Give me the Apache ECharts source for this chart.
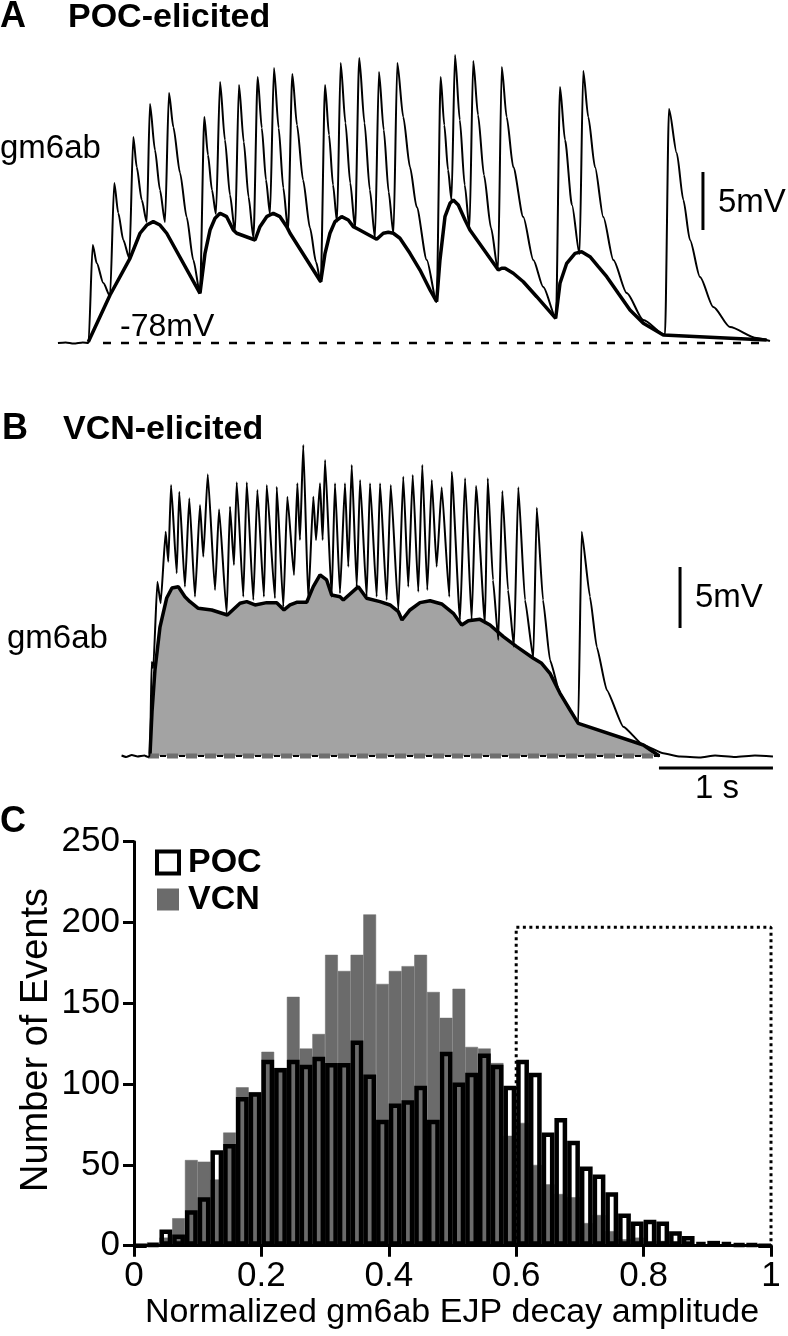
<!DOCTYPE html>
<html><head><meta charset="utf-8">
<script src="https://cdn.jsdelivr.net/npm/echarts@6/dist/echarts.min.js"></script>
<style>html,body{margin:0;padding:0;background:#fff}#c{width:788px;height:1336px}</style>
</head><body><div id="c"></div>
<script>
// ---------- Panel C histogram (bin width 0.02) ----------
const binLabels = ['0.00','0.02','0.04','0.06','0.08','0.10','0.12','0.14','0.16','0.18',
 '0.20','0.22','0.24','0.26','0.28','0.30','0.32','0.34','0.36','0.38',
 '0.40','0.42','0.44','0.46','0.48','0.50','0.52','0.54','0.56','0.58',
 '0.60','0.62','0.64','0.66','0.68','0.70','0.72','0.74','0.76','0.78',
 '0.80','0.82','0.84','0.86','0.88','0.90','0.92','0.94','0.96','0.98'];
const pocCounts = [0,1,10,7,22,30,59,63,92,95, 115,110,115,112,117,113,113,127,106,78,
 88,90,99,78,120,101,107,119,112,99, 115,107,70,79,65,49,44,33,20,15,
 16,15,9,6,2,3,2,1,1,0];
const vcnCounts = [1,2,5,17,53,52,41,70,98,95, 120,110,154,122,131,180,170,180,205,162,
 170,173,180,157,141,159,123,122,113,68, 76,50,38,32,30,14,19,9,4,5,
 2,3,1,1,0,0,0,0,0,0];
const pocBox = [[0.6,0],[0.6,197],[1.0,197],[1.0,0]];

// ---------- Panel A (POC-elicited): time s, mV above -78 mV ----------
const traceA = [
[-0.018,0],[0.05,0.05],[0.12,-0.05],[0.20,0.04],[0.250,0],
[0.287,8.45],[0.322,6.90],[0.380,5.17],[0.439,4.05],
[0.476,13.79],[0.511,11.21],[0.555,8.88],[0.608,7.33],
[0.643,17.76],[0.673,15.17],[0.717,12.33],[0.761,10.43],
[0.789,20.60],[0.833,16.64],[0.877,13.19],[0.921,10.43],
[0.956,21.55],[0.994,18.62],[1.053,14.66],[1.111,10.86],[1.169,7.16],[1.228,4.31],
[1.266,19.48],[1.298,16.21],[1.333,13.19],[1.368,11.12],
[1.404,22.50],[1.447,17.50],[1.491,12.76],[1.535,9.57],
[1.570,22.24],[1.612,17.33],[1.654,12.59],[1.697,9.05],
[1.734,22.93],[1.770,18.53],[1.807,14.05],[1.842,11.12],
[1.877,23.71],[1.918,18.53],[1.959,13.36],[2.000,9.74],
[2.038,23.19],[2.079,18.79],[2.132,14.05],[2.193,9.91],[2.246,6.98],[2.287,5.26],
[2.325,22.24],[2.360,17.93],[2.395,13.62],[2.430,10.43],
[2.462,24.14],[2.504,18.97],[2.546,13.79],[2.588,9.91],
[2.625,24.57],[2.671,18.97],[2.718,13.19],[2.763,9.05],
[2.798,23.36],[2.840,18.36],[2.883,13.02],[2.925,9.40],
[2.959,24.14],[3.011,19.48],[3.070,15.17],[3.129,11.72],[3.217,7.16],[3.304,3.53],
[3.339,22.93],[3.371,18.79],[3.404,14.91],[3.434,12.33],
[3.465,24.83],[3.507,19.22],[3.550,13.62],[3.592,9.91],
[3.625,24.31],[3.667,19.66],[3.719,14.48],[3.781,9.91],[3.842,6.29],
[3.875,23.79],[3.918,19.48],[3.976,15.17],[4.064,10.86],[4.152,7.16],[4.239,4.83],[4.351,2.16],
[4.386,22.07],[4.430,17.50],[4.491,11.90],[4.557,7.67],
[4.590,23.45],[4.634,19.48],[4.693,15.17],[4.766,10.86],[4.854,7.16],[4.971,4.31],[5.117,1.98],[5.307,0.69],
[5.342,20.17],[5.410,16.38],[5.468,12.33],[5.526,8.88],[5.614,5.69],[5.731,3.10],[5.877,1.38],[6.111,0.43],[6.228,0.17]
];
const envelopeA = [
[0.248,0.09],[0.439,4.14],[0.614,7.30],[0.702,9.46],[0.761,10.17],[0.818,10.46],[0.877,10.17],[0.936,9.46],
[1.228,4.28],[1.272,7.73],[1.316,9.74],[1.360,10.75],[1.404,11.18],[1.462,10.89],[1.520,9.74],[1.550,9.46],
[1.711,8.88],[1.754,10.03],[1.813,10.89],[1.871,11.18],[1.930,10.89],[1.989,10.03],[2.018,9.46],
[2.287,5.28],[2.325,7.73],[2.368,9.46],[2.412,10.46],[2.471,10.89],[2.529,10.60],[2.573,10.03],[2.617,9.80],
[2.778,8.94],[2.836,9.46],[2.880,9.54],[2.924,9.46],[2.982,9.03],[3.070,7.73],[3.158,6.29],[3.246,4.57],[3.304,3.56],
[3.333,7.16],[3.377,10.89],[3.421,12.04],[3.450,12.33],[3.494,11.90],[3.553,10.60],[3.596,9.74],
[3.845,6.29],[3.875,6.44],[3.904,6.44],[3.976,6.01],[4.064,5.28],[4.182,3.99],[4.348,2.13],
[4.386,5.15],[4.445,6.87],[4.518,7.73],[4.576,7.87],[4.649,7.44],[4.722,6.58],[4.796,5.72],[4.897,4.28],
[5.000,2.84],[5.117,1.70],[5.292,0.69],[6.199,0.26]
];
const restA = [0.377, 6.20];              // dashed -78 mV line, start/end (s)
const scaleA = {t:5.64, v0:9.74, mv:5};  // 5 mV bar

// ---------- Panel B (VCN-elicited) ----------
const traceB = [
[0.540,0.04],[0.580,-0.08],[0.630,0.08],[0.680,-0.04],[0.740,0.04],[0.772,-0.08],[0.789,0],
[0.804,7.70],[0.818,7.21],[0.854,14.29],[0.883,12.52],[0.927,18.39],[0.950,15.93],[0.974,22.21],[1.024,14.98],
[1.046,21.66],[1.096,13.88],[1.134,21.12],[1.184,13.06],[1.228,20.57],[1.257,16.34],[1.296,23.09],[1.360,13.61],
[1.395,20.22],[1.462,11.70],[1.491,20.43],[1.526,15.66],[1.550,22.43],[1.608,13.06],[1.638,22.43],[1.696,12.79],
[1.731,21.80],[1.789,13.06],[1.813,22.21],[1.886,12.93],[1.901,22.07],[1.959,12.24],[1.994,21.25],[2.053,14.84],
[2.082,22.35],[2.105,17.70],[2.134,25.49],[2.178,12.79],[2.222,21.25],[2.246,17.70],[2.281,22.35],[2.304,17.70],
[2.325,24.26],[2.383,13.06],[2.412,22.35],[2.456,13.34],[2.500,22.35],[2.529,15.52],[2.559,23.85],[2.603,13.88],
[2.632,22.62],[2.690,13.06],[2.719,22.35],[2.778,13.06],[2.807,22.35],[2.866,12.79],[2.901,22.21],[2.968,11.97],
[3.011,22.89],[3.055,13.88],[3.094,23.03],[3.143,13.47],[3.178,23.85],[3.222,13.61],[3.261,22.62],[3.304,15.52],
[3.348,22.02],[3.415,13.06],[3.436,23.30],[3.509,11.15],[3.553,22.76],[3.611,11.15],[3.649,22.13],[3.728,10.88],
[3.752,22.76],[3.798,14.43],[3.845,9.51],[3.880,21.72],[3.930,13.61],[3.982,8.96],[4.020,22.02],[4.079,12.79],[4.152,8.01],
[4.182,20.35],[4.237,12.79],[4.298,7.87],[4.386,5.14],[4.474,3.77],[4.546,2.68],
[4.576,18.39],[4.649,13.06],[4.708,8.96],[4.796,5.41],[4.941,2.40],[5.117,0.90],[5.292,0.22],
[5.439,-0.04],[5.614,-0.12],[5.746,0.04],[5.921,-0.08],[6.096,0.04],[6.254,-0.04]
];
const envelopeB = [
[0.789,0],[0.807,3.61],[0.833,7.05],[0.877,10.57],[0.936,12.95],[0.982,13.77],[1.038,13.88],[1.096,13.06],
[1.140,12.65],[1.213,12.11],[1.331,11.97],[1.468,11.56],[1.579,12.52],[1.638,12.65],[1.711,12.38],[1.813,12.57],
[1.901,12.57],[1.965,11.97],[2.018,12.38],[2.076,12.60],[2.164,12.60],[2.222,13.88],[2.281,14.84],[2.339,14.43],
[2.383,13.20],[2.456,13.06],[2.485,12.79],[2.617,13.88],[2.690,12.93],[2.807,12.65],[2.895,12.38],[2.968,11.83],
[3.000,11.15],[3.070,11.97],[3.158,12.57],[3.246,12.73],[3.348,12.46],[3.450,11.70],[3.524,10.74],[3.582,11.09],
[3.684,11.20],[3.772,10.74],[3.889,9.78],[4.006,8.96],[4.152,8.01],[4.225,7.60],[4.298,6.78],[4.386,5.14],
[4.474,3.77],[4.546,2.68],[5.117,0.90],[5.257,0]
];
const restB = [0.772, 5.263];
const scaleB = {t:5.439, v0:10.49, mv:5};
const timeBarB = {t0:5.254, sec:1, v:-0.98};

// ---------- chart ----------
const sans = "'Liberation Sans', Arial, Helvetica, sans-serif";
const chart = echarts.init(document.getElementById('c'), null, {renderer:'canvas'});

function line(xi, yi, data, width, extra) {
  return Object.assign({type:'line', xAxisIndex:xi, yAxisIndex:yi, data:data, symbol:'none',
    silent:true, clip:false, lineStyle:{color:'#000', width:width}}, extra || {});
}
const txt = (text, x, y, size, bold, extra) => Object.assign({type:'text', x:x, y:y, silent:true,
  style:{text:text, fill:'#000', font:(bold?'bold ':'') + size + 'px ' + sans, align:'left', verticalAlign:'middle'}}, extra || {});

const option = {
  animation:false,
  backgroundColor:'#fff',
  grid:[
    {left:54.3, top:41.4, width:720.7, height:313.2},
    {left:54.3, top:426.6, width:720.7, height:347.7},
    {left:134, top:841.7, width:637, height:404}
  ],
  xAxis:[
    {gridIndex:0, type:'value', min:-0.05, max:6.272, show:false},
    {gridIndex:1, type:'value', min:-0.05, max:6.272, show:false},
    {gridIndex:2, type:'category', data:binLabels, show:false, position:'top'},
    {gridIndex:2, type:'value', min:0, max:1, interval:0.2, position:'bottom', z:10,
      axisLine:{show:true, lineStyle:{color:'#000', width:3}},
      axisTick:{show:true, length:11, lineStyle:{color:'#000', width:3}},
      axisLabel:{margin:13, color:'#000', fontFamily:sans, fontSize:35},
      splitLine:{show:false}}
  ],
  yAxis:[
    {gridIndex:0, type:'value', min:-1, max:26, show:false},
    {gridIndex:1, type:'value', min:-1.5, max:27, show:false},
    {gridIndex:2, type:'value', min:0, max:250, interval:50, z:10,
      axisLine:{show:true, lineStyle:{color:'#000', width:3}},
      axisTick:{show:true, length:11, lineStyle:{color:'#000', width:3}},
      axisLabel:{margin:14, color:'#000', fontFamily:sans, fontSize:35},
      splitLine:{show:false}}
  ],
  legend:{
    data:[{name:'POC', icon:'rect', itemStyle:{color:'#fff', borderColor:'#000', borderWidth:4}},
          {name:'VCN', icon:'rect', itemStyle:{color:'#6b6b6b', borderWidth:0}}],
    orient:'vertical', left:155, top:845.5, padding:0, itemWidth:22, itemHeight:22, itemGap:3,
    selectedMode:false,
    textStyle:{fontFamily:sans, fontWeight:'bold', fontSize:34, lineHeight:34, color:'#000', padding:[0,0,0,4]}
  },
  series:[
    // Panel A
    line(0,0, [[restA[0],0],[restA[1],0]], 2.5, {lineStyle:{color:'#000', width:2.5, type:[8,10]}}),
    line(0,0, envelopeA, 3.5),
    line(0,0, traceA, 2, {smooth:0.25, smoothMonotone:'x'}),
    line(0,0, [[scaleA.t, scaleA.v0],[scaleA.t, scaleA.v0 + scaleA.mv]], 3),
    // Panel B
    line(1,1, envelopeB, 3.5, {areaStyle:{color:'#a3a3a3', opacity:1}}),
    line(1,1, [[restB[0],0],[restB[1],0]], 5, {lineStyle:{color:'#6e6e6e', width:5, type:[11,8]}}),
    line(1,1, [[restB[0],0],[restB[1],0]], 2, {lineStyle:{color:'#000', width:2, type:[6,13], dashOffset:-12}}),
    line(1,1, traceB, 2, {smooth:0.15, smoothMonotone:'x'}),
    line(1,1, [[scaleB.t, scaleB.v0],[scaleB.t, scaleB.v0 + scaleB.mv]], 3),
    line(1,1, [[timeBarB.t0, timeBarB.v],[timeBarB.t0 + timeBarB.sec, timeBarB.v]], 3),
    // Panel C
    {type:'bar', name:'VCN', xAxisIndex:2, yAxisIndex:2, data:vcnCounts, barCategoryGap:'0%', barGap:'-100%',
      silent:true, itemStyle:{color:'#6b6b6b', borderColor:'#6b6b6b', borderWidth:0.5}},
    {type:'bar', name:'POC', xAxisIndex:2, yAxisIndex:2, data:pocCounts, barCategoryGap:'0%', barGap:'-100%',
      silent:true, itemStyle:{color:'rgba(0,0,0,0)', borderColor:'#000', borderWidth:4.5}},
    line(3,2, pocBox, 3, {lineStyle:{color:'#000', width:3, type:[3,3.5]}})
  ],
  graphic:[
    txt('A', 0, 17, 36, true),
    txt('POC-elicited', 68, 18, 34, true),
    txt('gm6ab', 0, 149, 33, false),
    txt('-78mV', 120, 327, 32, false),
    txt('5mV', 718, 203, 33, false),
    txt('B', 2, 429, 36, true),
    txt('VCN-elicited', 63, 430, 34, true),
    txt('gm6ab', 7, 639, 33, false),
    txt('-78mV', 160, 741, 32, false),
    txt('5mV', 695, 598, 33, false),
    {type:'text', x:717, y:789, silent:true, style:{text:'1 s', fill:'#000', font:'33px ' + sans, align:'center', verticalAlign:'middle'}},
    txt('C', 0, 822, 36, true),
    {type:'text', x:37, y:1040, rotation:Math.PI/2, silent:true,
      style:{text:'Number of Events', fill:'#000', font:'38px ' + sans, align:'center', verticalAlign:'middle'}},
    {type:'text', x:452, y:1313, silent:true,
      style:{text:'Normalized gm6ab EJP decay amplitude', fill:'#000', font:'34px ' + sans, align:'center', verticalAlign:'middle'}}
  ]
};
chart.setOption(option);
</script>
</body></html>
